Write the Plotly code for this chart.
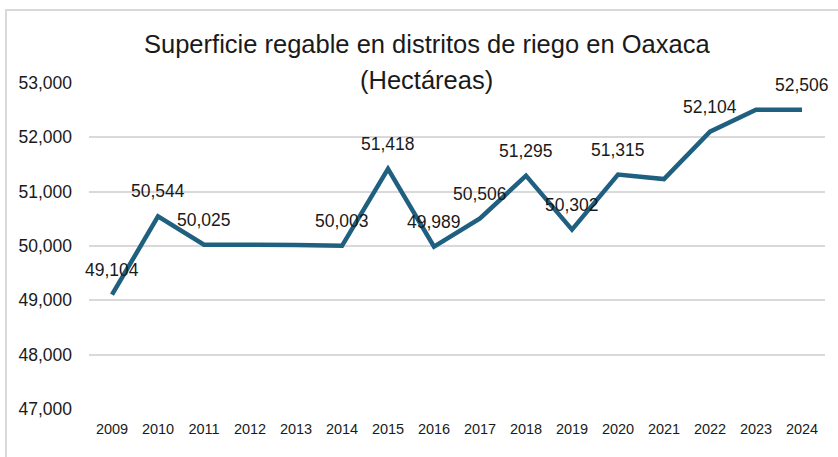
import plotly.graph_objects as go

years = ["2009", "2010", "2011", "2012", "2013", "2014", "2015", "2016",
         "2017", "2018", "2019", "2020", "2021", "2022", "2023", "2024"]
values = [49104, 50544, 50025, 50025, 50020, 50003, 51418, 49989,
          50506, 51295, 50302, 51315, 51232, 52104, 52506, 52506]
labeled = [True, True, True, False, False, True, True, True,
           True, True, True, True, False, True, False, True]
y_ticks = [47000, 48000, 49000, 50000, 51000, 52000, 53000]

title_line1 = "Superficie regable en distritos de riego en Oaxaca"
title_line2 = "(Hectáreas)"

FONT = "Liberation Sans, Arial, sans-serif"
LINE_COLOR = "#1f5f80"
TEXT_COLOR = "#1a1a1a"

fig = go.Figure()
fig.add_trace(go.Scatter(
    x=years, y=values, mode="lines",
    line=dict(color=LINE_COLOR, width=4.5),
    hoverinfo="x+y", showlegend=False,
))

for i, (v, show) in enumerate(zip(values, labeled)):
    if show:
        fig.add_annotation(
            xref="x", yref="y", x=i, y=v, text=f"{v:,}", showarrow=False,
            yshift=25, xanchor="center", yanchor="middle",
            font=dict(family=FONT, size=17.5, color=TEXT_COLOR),
        )

fig.add_annotation(
    xref="paper", yref="paper", x=0.459, y=1.12, text=title_line1,
    showarrow=False, font=dict(family=FONT, size=25.5, color=TEXT_COLOR),
    xanchor="center", yanchor="middle",
)
fig.add_annotation(
    xref="paper", yref="paper", x=0.459, y=1.009, text=title_line2,
    showarrow=False, font=dict(family=FONT, size=25.5, color=TEXT_COLOR),
    xanchor="center", yanchor="middle",
)

# outer chart border
fig.add_shape(
    type="rect", xref="paper", yref="paper",
    x0=(6 - 89) / 736, x1=(850 - 89) / 736,
    y0=(409 - 470) / 326, y1=(409 - 10) / 326,
    line=dict(color="#d9d9d9", width=2), fillcolor="rgba(0,0,0,0)",
    layer="below",
)

fig.update_layout(
    width=838, height=457,
    margin=dict(l=89, r=13, t=83, b=48),
    paper_bgcolor="white", plot_bgcolor="white",
    xaxis=dict(
        type="category", range=[-0.5, 15.5], showgrid=False, zeroline=False,
        showline=False, ticks="", ticklabelstandoff=9,
        tickfont=dict(family=FONT, size=14.5, color=TEXT_COLOR),
    ),
    yaxis=dict(
        range=[47000, 53000], tickvals=y_ticks, tickformat=",d",
        showgrid=True, gridcolor="#d9d9d9", gridwidth=1.5,
        zeroline=False, showline=False, ticks="", ticklabelstandoff=16,
        tickfont=dict(family=FONT, size=17.5, color=TEXT_COLOR),
    ),
)

fig.write_html(
    "out.html",
    config={"displayModeBar": False},
    post_script="document.body.style.margin='0';document.body.style.overflow='hidden';",
)
